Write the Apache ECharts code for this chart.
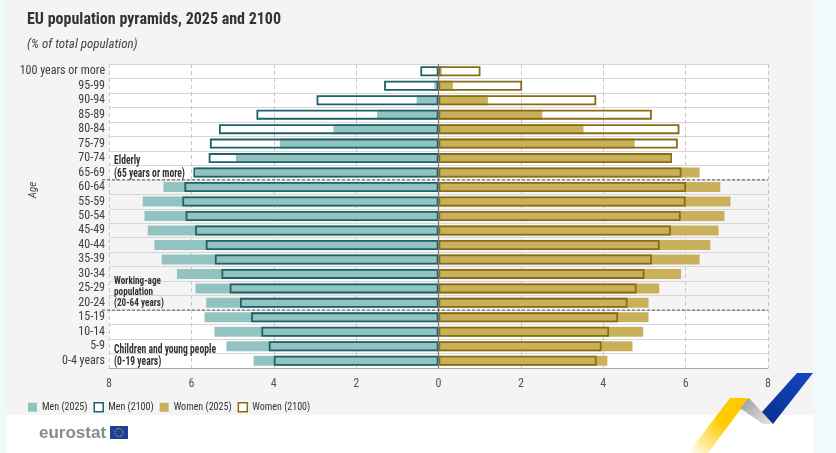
<!DOCTYPE html>
<html><head><meta charset="utf-8">
<script src="https://cdn.jsdelivr.net/npm/echarts@6/dist/echarts.min.js"></script>
<style>html,body{margin:0;padding:0;background:#f0fafc;} #c{width:836px;height:453px;}</style>
</head><body><div id="c"></div>
<script>
const ageGroups = ['100 years or more','95-99','90-94','85-89','80-84','75-79','70-74','65-69','60-64','55-59','50-54','45-49','40-44','35-39','30-34','25-29','20-24','15-19','10-14','5-9','0-4 years'];
const men2025   = [0.03,0.10,0.53,1.49,2.55,3.85,4.92,5.90,6.68,7.18,7.14,7.06,6.90,6.72,6.35,5.90,5.64,5.68,5.44,5.15,4.49];
const men2100   = [0.44,1.32,2.96,4.42,5.33,5.55,5.58,5.95,6.17,6.22,6.14,5.91,5.65,5.43,5.27,5.07,4.82,4.55,4.30,4.12,4.00];
const women2025 = [0.08,0.35,1.20,2.52,3.52,4.76,5.62,6.34,6.84,7.09,6.94,6.80,6.60,6.34,5.89,5.36,5.10,5.10,4.97,4.71,4.10];
const women2100 = [1.02,2.03,3.83,5.18,5.85,5.81,5.67,5.90,6.01,6.00,5.88,5.64,5.37,5.18,5.00,4.81,4.59,4.36,4.14,3.96,3.84];
const xTicks = {min: -8, max: 8, interval: 2};
const seriesNames = ['Men (2025)','Men (2100)','Women (2025)','Women (2100)'];

const FONT = '"Liberation Sans Narrow","Roboto Condensed","DejaVu Sans Condensed","Liberation Sans",sans-serif';
const C_MEN = '#93c3c1', C_MEN_D = '#1e6169', C_WOM = '#c9b15c', C_WOM_D = '#8b6c14';
const BW = 10;

const chart = echarts.init(document.getElementById('c'), null, {renderer: 'canvas'});
const neg = a => a.map(v => -v);

const option = {
  animation: false,
  textStyle: {fontFamily: FONT},
  title: {
    text: 'EU population pyramids, 2025 and 2100',
    subtext: '(% of total population)',
    left: 22, top: 7,
    textStyle: {fontFamily: FONT, fontSize: 16, fontWeight: 'bold', color: '#333'},
    subtextStyle: {fontFamily: FONT, fontSize: 13, fontStyle: 'italic', color: '#444'},
    itemGap: 10
  },
  legend: {
    left: 23, top: 397,
    itemWidth: 9, itemHeight: 9, itemGap: 6,
    textStyle: {fontFamily: FONT, fontSize: 10, color: '#333'},
    data: [
      {name: seriesNames[0], icon: 'rect', itemStyle: {color: C_MEN, borderWidth: 0}},
      {name: seriesNames[1], icon: 'rect', itemStyle: {color: '#fff', borderColor: C_MEN_D, borderWidth: 1.5}},
      {name: seriesNames[2], icon: 'rect', itemStyle: {color: C_WOM, borderWidth: 0}},
      {name: seriesNames[3], icon: 'rect', itemStyle: {color: '#fff', borderColor: C_WOM_D, borderWidth: 1.5}}
    ]
  },
  grid: {left: 109, right: 68, top: 64, bottom: 85, containLabel: false},
  xAxis: {
    type: 'value', min: xTicks.min, max: xTicks.max, interval: xTicks.interval,
    axisLine: {show: true, lineStyle: {color: '#a8a8a8', width: 1.2}},
    axisTick: {show: false},
    axisLabel: {formatter: v => String(Math.abs(v)), color: '#555', fontSize: 12, margin: 10, fontFamily: FONT},
    splitLine: {show: true, lineStyle: {color: '#c8c8c8', type: [4, 3], width: 1}}
  },
  yAxis: {
    type: 'category', data: ageGroups, inverse: true,
    axisLine: {show: false}, axisTick: {show: false},
    axisLabel: {interval: 0, color: '#404040', fontSize: 12, margin: 4, fontFamily: FONT},
    splitLine: {show: true, interval: 0, lineStyle: {color: '#d6d6d6', width: 1.2}}
  },
  series: [
    {name: seriesNames[0], type: 'bar', data: neg(men2025), barWidth: BW, barGap: '-100%',
      itemStyle: {color: C_MEN}, z: 2,
      markLine: {silent: true, symbol: 'none', label: {show: false}, lineStyle: {color: '#777', type: 'solid', width: 1.2}, data: [{xAxis: 0}], z: 5}},
    {name: seriesNames[1], type: 'bar', data: neg(men2100), barWidth: BW, barGap: '-100%',
      itemStyle: {color: 'rgba(0,0,0,0)', borderColor: C_MEN_D, borderWidth: 1.8}, z: 3},
    {name: seriesNames[2], type: 'bar', data: women2025, barWidth: BW, barGap: '-100%',
      itemStyle: {color: C_WOM}, z: 2},
    {name: seriesNames[3], type: 'bar', data: women2100, barWidth: BW, barGap: '-100%',
      itemStyle: {color: 'rgba(0,0,0,0)', borderColor: C_WOM_D, borderWidth: 1.8}, z: 3}
  ]
};
chart.setOption(option);

function drawExtras() {
  const px = (x, cat) => chart.convertToPixel({gridIndex: 0}, [x, cat]);
  const left = px(xTicks.min, ageGroups[0])[0];
  const right = px(xTicks.max, ageGroups[0])[0];
  const yc = c => px(0, c)[1];
  const step = yc(ageGroups[1]) - yc(ageGroups[0]);
  const edgeTop = c => yc(c) - step / 2;
  const edgeBot = c => yc(c) + step / 2;
  const g = [];
  g.push({type: 'rect', z: -100, silent: true, shape: {x: 6, y: 0, width: 807, height: 415}, style: {fill: '#f4f4f4'}});
  g.push({type: 'rect', z: -100, silent: true, shape: {x: 6, y: 415, width: 807, height: 38}, style: {fill: '#ffffff'}});
  const bands = [['100 years or more', '65-69'], ['15-19', '0-4 years']];
  bands.forEach(b => {
    const y0 = edgeTop(b[0]), y1 = edgeBot(b[1]);
    g.push({type: 'rect', z: -50, silent: true, shape: {x: left, y: y0, width: right - left, height: y1 - y0}, style: {fill: '#ffffff'}});
  });
  [['65-69', '60-64'], ['20-24', '15-19']].forEach(p => {
    const y = (yc(p[0]) + yc(p[1])) / 2;
    g.push({type: 'line', z: 10, silent: true, shape: {x1: left - 7, y1: y, x2: right, y2: y},
      style: {stroke: '#555', lineWidth: 1, lineDash: [3, 2]}});
  });
  const lblStyle = {fill: '#333', fontFamily: FONT, fontSize: 12, fontWeight: 'bold', align: 'left', verticalAlign: 'middle'};
  const SX = 0.8;
  g.push({type: 'text', z: 20, silent: true, x: left + 5, y: (yc('70-74') + yc('65-69')) / 2 + 2, scaleX: SX,
    style: Object.assign({}, lblStyle, {text: 'Elderly\n(65 years or more)', lineHeight: 13})});
  g.push({type: 'text', z: 20, silent: true, x: left + 5, y: yc('25-29') + 4, scaleX: SX,
    style: Object.assign({}, lblStyle, {text: 'Working-age\npopulation\n(20-64 years)', fontSize: 11.5, lineHeight: 11})});
  g.push({type: 'text', z: 20, silent: true, x: left + 5, y: (yc('5-9') + yc('0-4 years')) / 2 + 2, scaleX: SX,
    style: Object.assign({}, lblStyle, {text: 'Children and young people\n(0-19 years)', lineHeight: 12})});
  g.push({type: 'text', z: 20, silent: true, x: 33, y: 190, rotation: Math.PI / 2,
    style: {text: 'Age', fill: '#444', fontFamily: FONT, fontSize: 11, fontStyle: 'italic', align: 'center', verticalAlign: 'middle'}});
  g.push({type: 'text', z: 20, silent: true, x: 39, y: 433,
    style: {text: 'eurostat', fill: '#888b8e', fontFamily: '"Liberation Sans",Arial,sans-serif', fontSize: 17, fontWeight: 'bold', verticalAlign: 'middle'}});
  g.push({type: 'rect', z: 20, silent: true, shape: {x: 110, y: 426, width: 18, height: 13}, style: {fill: '#1f3f9c'}});
  g.push({type: 'circle', z: 21, silent: true, shape: {cx: 119, cy: 432.5, r: 4}, style: {fill: 'none', stroke: '#f5d000', lineWidth: 1, lineDash: [1, 1.1]}});
  g.push({type: 'polygon', z: 20, silent: true, shape: {points: [[688, 453], [708, 453], [749, 398], [730, 398]]},
    style: {fill: new echarts.graphic.LinearGradient(0, 1, 1, 0, [{offset: 0, color: 'rgba(255,204,0,0)'}, {offset: 0.55, color: '#ffcc00'}, {offset: 1, color: '#ffc800'}])}});
  g.push({type: 'polygon', z: 20, silent: true, shape: {points: [[740, 408], [749, 398], [773, 424], [763, 424]]},
    style: {fill: new echarts.graphic.LinearGradient(0, 0, 1, 1, [{offset: 0, color: '#9a9a9a'}, {offset: 1, color: '#e8e8e8'}])}});
  g.push({type: 'polygon', z: 21, silent: true, shape: {points: [[762, 412], [797, 373], [813, 373], [773, 424]]},
    style: {fill: new echarts.graphic.LinearGradient(0, 1, 1, 0, [{offset: 0, color: '#0b2f8a'}, {offset: 1, color: '#1446c8'}])}});
  chart.setOption({graphic: g});
}
drawExtras();
</script>
</body></html>
